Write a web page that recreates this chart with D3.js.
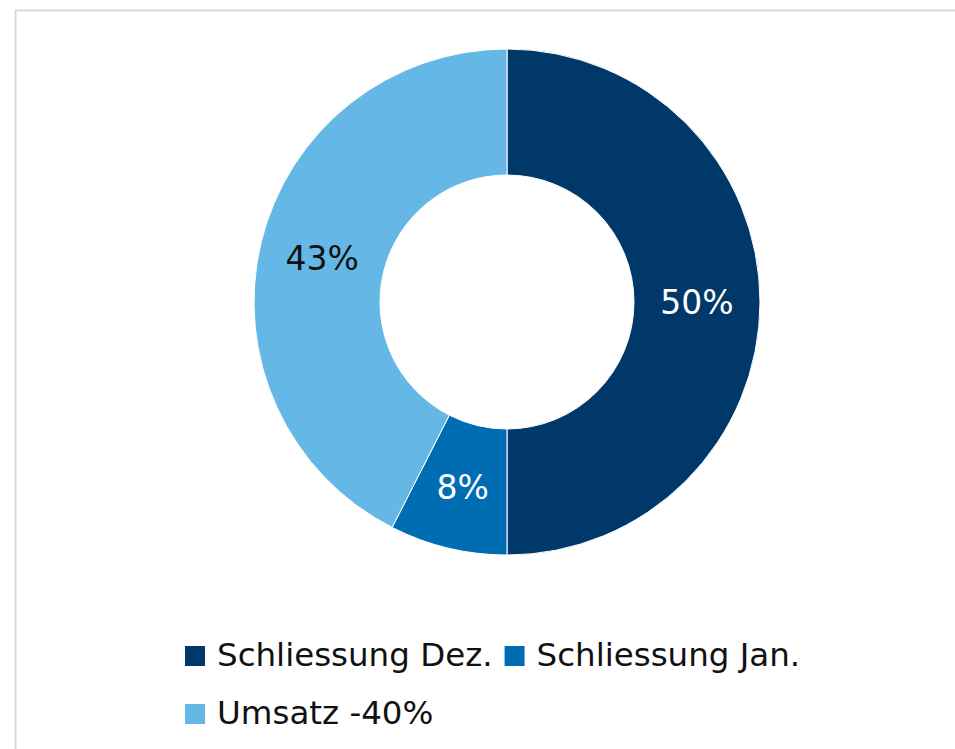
<!DOCTYPE html>
<html>
<head>
<meta charset="utf-8">
<script src="https://cdn.jsdelivr.net/npm/d3@7"></script>
<style>
  html, body { margin: 0; padding: 0; background: #fff; }
  svg { display: block; }
</style>
</head>
<body>
<div id="chart"></div>
<script>
// Data
const categories = ["Schliessung Dez.", "Schliessung Jan.", "Umsatz -40%"];
const shares = [50, 7.5, 42.5];
const colors = ["#00386A", "#006DB2", "#65B8E5"];
const labelColors = ["#ffffff", "#ffffff", "#111111"];

const width = 955, height = 749;
const cx = 507, cy = 302;
const outerR = 253, innerR = 127;

const svg = d3.select("#chart").append("svg")
    .attr("width", width)
    .attr("height", height);

// Chart frame (only top and left edges fall inside the window)
svg.append("rect")
    .attr("x", 15.5)
    .attr("y", 10.5)
    .attr("width", 1000)
    .attr("height", 800)
    .attr("fill", "none")
    .attr("stroke", "#d9d9d9")
    .attr("stroke-width", 2);

const data = categories.map((c, i) => ({ name: c, value: shares[i], color: colors[i], labelColor: labelColors[i] }));

const pie = d3.pie().sort(null).value(d => d.value);
const arc = d3.arc().innerRadius(innerR).outerRadius(outerR);

const g = svg.append("g").attr("transform", `translate(${cx},${cy})`);

const arcs = pie(data);

g.selectAll("path.slice")
    .data(arcs)
    .join("path")
    .attr("class", "slice")
    .attr("d", arc)
    .attr("fill", d => d.data.color)
    .attr("stroke", "#ffffff")
    .attr("stroke-width", 1);

// Percent labels at slice centroids
g.selectAll("text.pct")
    .data(arcs)
    .join("text")
    .attr("class", "pct")
    .attr("transform", d => `translate(${arc.centroid(d)})`)
    .attr("text-anchor", "middle")
    .attr("dy", "0.36em")
    .attr("font-family", "'DejaVu Sans', sans-serif")
    .attr("font-size", "33px")
    .attr("fill", d => d.data.labelColor)
    .text(d => `${Math.round(d.data.value)}%`);

// Legend: flows left to right, wraps to a new row
const legend = svg.append("g").attr("class", "legend");
const legendLeft = 185, legendRight = 830;
const rowBaselines = [666, 724];
const swatch = 20, textGap = 12, itemGap = 12;

let row = 0, x = legendLeft;
data.forEach(d => {
    const item = legend.append("g");
    const label = item.append("text")
        .attr("x", swatch + textGap)
        .attr("font-family", "'DejaVu Sans', sans-serif")
        .attr("font-size", "32.5px")
        .attr("fill", "#111111")
        .text(d.name);
    const w = swatch + textGap + label.node().getComputedTextLength();
    if (x > legendLeft && x + w > legendRight) {
        row += 1;
        x = legendLeft;
    }
    item.attr("transform", `translate(${x},${rowBaselines[row]})`);
    item.insert("rect", "text")
        .attr("x", 0)
        .attr("y", -swatch)
        .attr("width", swatch)
        .attr("height", swatch)
        .attr("fill", d.color);
    x += w + itemGap;
});
</script>
</body>
</html>
